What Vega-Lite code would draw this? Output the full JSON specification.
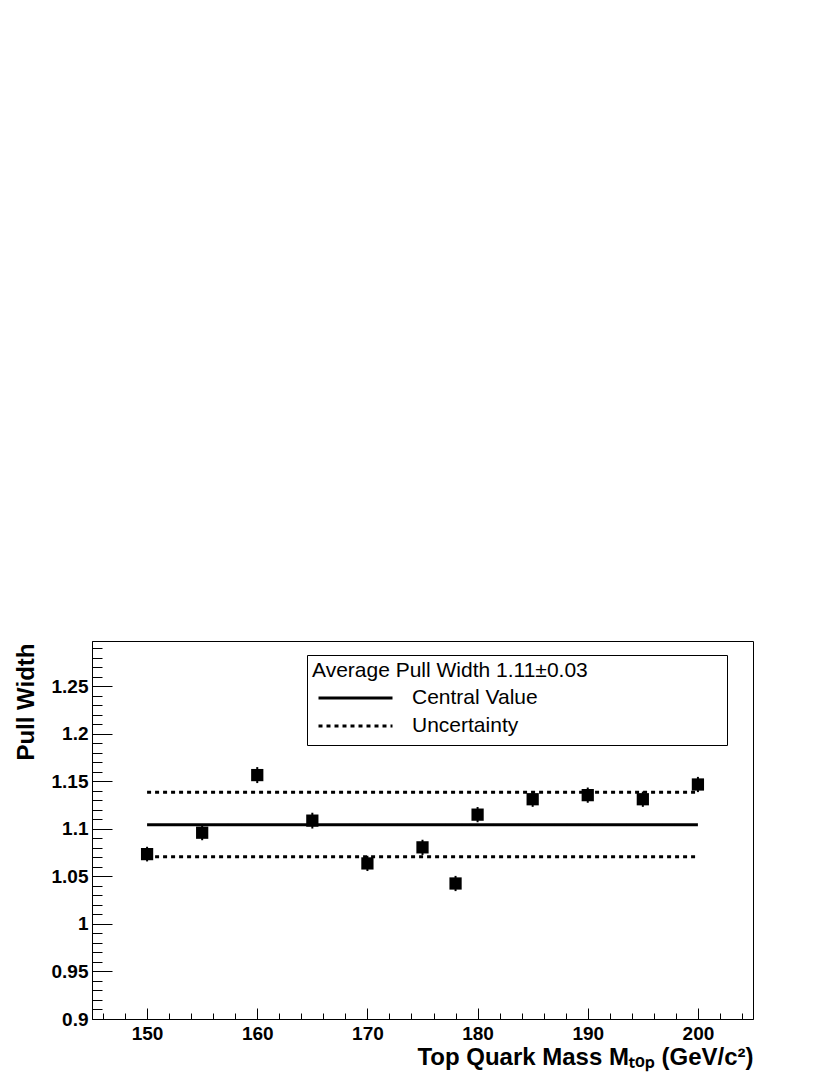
{
  "$schema": "https://vega.github.io/schema/vega-lite/v6.json",
  "autosize": {"type": "none"},
  "padding": {"left": 92, "top": 641, "right": 77, "bottom": 56},
  "width": 661,
  "height": 378,
  "background": "white",
  "config": {
    "font": "Liberation Sans",
    "view": {"stroke": "#000", "strokeWidth": 1},
    "axis": {"grid": false, "domainColor": "#000", "tickColor": "#000", "labelColor": "#000", "titleColor": "#000", "labelFont": "Liberation Sans", "titleFont": "Liberation Sans"}
  },
  "datasets": {
    "points": [
      {"mass": 150, "pull": 1.0734, "err": 0.0077},
      {"mass": 155, "pull": 1.0959, "err": 0.0079},
      {"mass": 160, "pull": 1.1565, "err": 0.0084},
      {"mass": 165, "pull": 1.1086, "err": 0.0083},
      {"mass": 170, "pull": 1.0636, "err": 0.008},
      {"mass": 175, "pull": 1.0805, "err": 0.008},
      {"mass": 178, "pull": 1.0425, "err": 0.008},
      {"mass": 180, "pull": 1.1149, "err": 0.008},
      {"mass": 185, "pull": 1.1311, "err": 0.008},
      {"mass": 190, "pull": 1.1354, "err": 0.008},
      {"mass": 195, "pull": 1.1311, "err": 0.008},
      {"mass": 200, "pull": 1.1466, "err": 0.008}
    ],
    "lines": [
      {"series": "Central Value", "value": 1.1043, "from": 150, "to": 200},
      {"series": "Uncertainty", "value": 1.1385, "from": 150, "to": 200},
      {"series": "Uncertainty", "value": 1.0706, "from": 150, "to": 200}
    ]
  },
  "resolve": {"axis": {"x": "independent", "y": "independent"}},
  "layer": [
    {
      "data": {"name": "lines"},
      "mark": {"type": "rule", "strokeWidth": 3, "color": "#000"},
      "encoding": {
        "x": {"field": "from", "type": "quantitative", "scale": {"domain": [145, 205], "nice": false, "zero": false}, "axis": null},
        "x2": {"field": "to"},
        "y": {"field": "value", "type": "quantitative", "scale": {"domain": [0.9, 1.2975], "nice": false, "zero": false}, "axis": null},
        "strokeDash": {
          "field": "series", "type": "nominal",
          "scale": {"domain": ["Central Value", "Uncertainty"], "range": [[1, 0], [4, 4]]},
          "legend": {
            "title": "Average Pull Width 1.11±0.03\u00a0\u00a0\u00a0\u00a0\u00a0\u00a0\u00a0\u00a0\u00a0\u00a0\u00a0\u00a0\u00a0\u00a0\u00a0\u00a0\u00a0\u00a0\u00a0\u00a0\u00a0\u00a0\u00a0\u200b",
            "titleLimit": 600,
            "labelLimit": 400,
            "orient": "none",
            "legendX": 215,
            "legendY": 14,
            "fillColor": "white",
            "strokeColor": "#000",
            "padding": 5,
            "titleFont": "Liberation Sans",
            "titleFontSize": 21,
            "titleFontWeight": "normal",
            "titleColor": "#000",
            "titlePadding": 3,
            "labelFont": "Liberation Sans",
            "labelFontSize": 21,
            "labelColor": "#000",
            "labelOffset": 18,
            "symbolType": "stroke",
            "symbolSize": 5476,
            "symbolStrokeWidth": 3,
            "symbolStrokeColor": "#000",
            "symbolOffset": 5,
            "clipHeight": 28,
            "rowPadding": 0
          }
        }
      }
    },
    {
      "data": {"name": "points"},
      "mark": {"type": "errorbar", "thickness": 2, "color": "#000"},
      "encoding": {
        "x": {"field": "mass", "type": "quantitative", "scale": {"domain": [145, 205], "nice": false, "zero": false}, "axis": null},
        "y": {"field": "pull", "type": "quantitative", "scale": {"domain": [0.9, 1.2975], "nice": false, "zero": false}, "axis": null},
        "yError": {"field": "err"}
      }
    },
    {
      "data": {"name": "points"},
      "mark": {"type": "point", "shape": "square", "filled": true, "size": 150, "color": "#000", "opacity": 1},
      "encoding": {
        "x": {
          "field": "mass", "type": "quantitative",
          "scale": {"domain": [145, 205], "nice": false, "zero": false},
          "axis": {
            "orient": "bottom",
            "values": [150, 160, 170, 180, 190, 200],
            "tickSize": -11,
            "tickWidth": 1,
            "labelPadding": 16,
            "labelFontSize": 19,
            "labelFontWeight": "bold",
            "labelBaseline": "top",
            "title": "Top Quark Mass Mₜₒₚ (GeV/c²)",
            "titleFontSize": 24,
            "titleFontWeight": "bold",
            "titleX": 661,
            "titleY": 45,
            "titleAlign": "right",
            "titleBaseline": "alphabetic"
          }
        },
        "y": {
          "field": "pull", "type": "quantitative",
          "scale": {"domain": [0.9, 1.2975], "nice": false, "zero": false},
          "axis": {
            "orient": "left",
            "values": [0.9, 0.95, 1, 1.05, 1.1, 1.15, 1.2, 1.25],
            "format": "~g",
            "tickSize": -20,
            "tickWidth": 1,
            "labelPadding": 24,
            "labelFontSize": 19,
            "labelFontWeight": "bold",
            "title": "Pull Width",
            "titleFontSize": 24,
            "titleFontWeight": "bold",
            "titleAngle": -90,
            "titleX": -59,
            "titleY": 2,
            "titleAlign": "right",
            "titleBaseline": "alphabetic"
          }
        }
      }
    },
    {
      "data": {"name": "points"},
      "mark": {"type": "point", "opacity": 0},
      "encoding": {
        "x": {
          "field": "mass", "type": "quantitative",
          "scale": {"domain": [145, 205], "nice": false, "zero": false},
          "axis": {
            "orient": "bottom",
            "values": [146, 148, 152, 154, 156, 158, 162, 164, 166, 168, 172, 174, 176, 178, 182, 184, 186, 188, 192, 194, 196, 198, 202, 204],
            "tickSize": -6,
            "tickWidth": 1,
            "labels": false,
            "domain": false,
            "title": null
          }
        },
        "y": {
          "field": "pull", "type": "quantitative",
          "scale": {"domain": [0.9, 1.2975], "nice": false, "zero": false},
          "axis": {
            "orient": "left",
            "values": [0.91, 0.92, 0.93, 0.94, 0.96, 0.97, 0.98, 0.99, 1.01, 1.02, 1.03, 1.04, 1.06, 1.07, 1.08, 1.09, 1.11, 1.12, 1.13, 1.14, 1.16, 1.17, 1.18, 1.19, 1.21, 1.22, 1.23, 1.24, 1.26, 1.27, 1.28, 1.29],
            "tickSize": -10,
            "tickWidth": 1,
            "labels": false,
            "domain": false,
            "title": null
          }
        }
      }
    }
  ]
}
